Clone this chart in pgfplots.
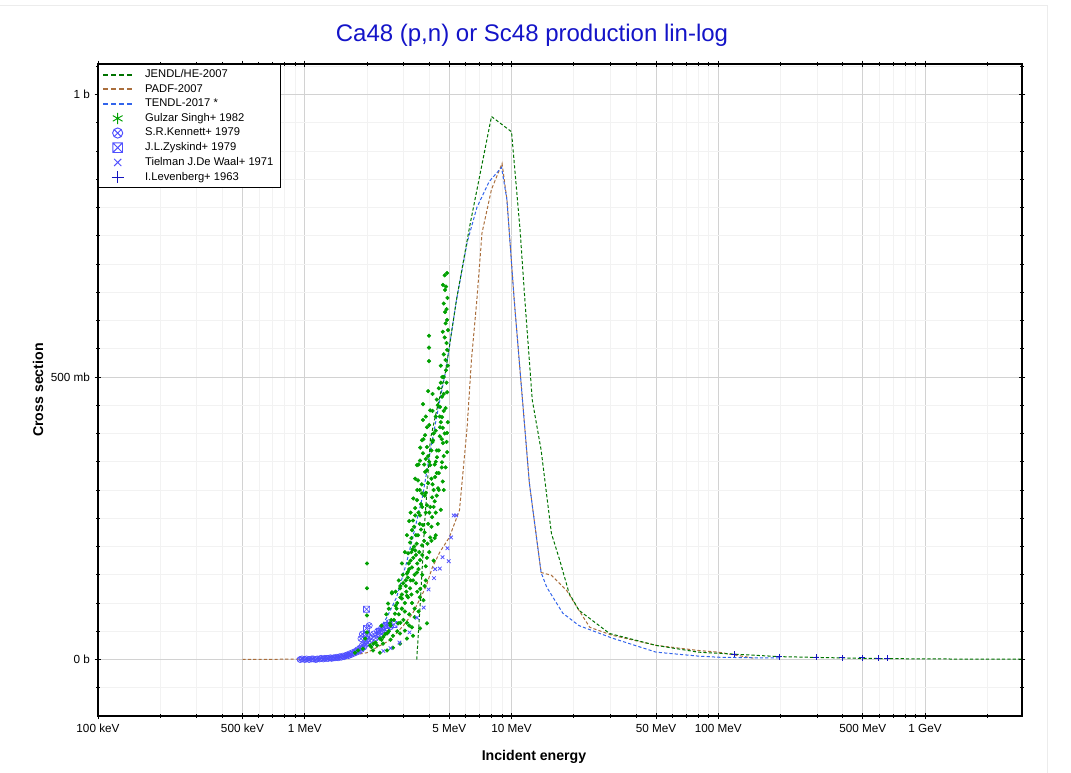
\documentclass[border=0pt]{standalone}
\usepackage{fontspec}
\setmainfont{Liberation Sans}
\usepackage{pgfplots}
\pgfplotsset{compat=1.18}
\usetikzlibrary{plotmarks}
\definecolor{jendl}{RGB}{0,115,0}
\definecolor{padf}{RGB}{170,110,60}
\definecolor{tendl}{RGB}{50,100,235}
\definecolor{gulzar}{RGB}{0,160,0}
\definecolor{expblue}{RGB}{80,80,255}
\definecolor{levblue}{RGB}{20,20,190}
\definecolor{titleblue}{RGB}{20,20,200}
\pgfdeclareplotmark{boxtimes}{%
  \pgfpathrectangle{\pgfqpoint{-\pgfplotmarksize}{-\pgfplotmarksize}}{\pgfqpoint{2\pgfplotmarksize}{2\pgfplotmarksize}}%
  \pgfpathmoveto{\pgfqpoint{-\pgfplotmarksize}{-\pgfplotmarksize}}\pgfpathlineto{\pgfqpoint{\pgfplotmarksize}{\pgfplotmarksize}}%
  \pgfpathmoveto{\pgfqpoint{-\pgfplotmarksize}{\pgfplotmarksize}}\pgfpathlineto{\pgfqpoint{\pgfplotmarksize}{-\pgfplotmarksize}}%
  \pgfusepathqstroke}
\tikzset{curve/.style={dash pattern=on 2.4pt off 1.6pt, line width=0.75pt}}
\begin{document}
\begin{tikzpicture}
\useasboundingbox (0,0) rectangle (803.25pt,579.75pt);
\draw[gray!15, line width=0.6pt] (0,576pt) -- (785.25pt,576pt) -- (785.25pt,0);
\node[font=\fontsize{18}{20}\selectfont, text=titleblue] at (399pt,553.5pt) {Ca48 (p,n) or Sc48 production lin-log};
\node[font=\bfseries\fontsize{10.6}{12}\selectfont] at (400.5pt,12pt) {Incident energy};
\node[font=\bfseries\fontsize{10.6}{12}\selectfont, rotate=90] at (28.5pt,287.25pt) {Cross section};
\begin{axis}[
  at={(73.5pt,42.75pt)}, anchor=south west,
  scale only axis, width=693pt, height=489pt,
  xmode=log, xmin=0.1, xmax=2944, ymin=-0.1, ymax=1.054,
  xtick={0.1,0.5,1,5,10,50,100,500,1000},
  xticklabels={100 keV,500 keV,1 MeV,5 MeV,10 MeV,50 MeV,100 MeV,500 MeV,1 GeV},
  minor xtick={0.2,0.3,0.4,0.6,0.7,0.8,0.9,2,3,4,6,7,8,9,20,30,40,60,70,80,90,200,300,400,600,700,800,900,2000},
  ytick={0,0.5,1}, yticklabels={0 b,500 mb,1 b},
  minor ytick={-0.05,0.05,0.1,0.15,0.2,0.25,0.3,0.35,0.4,0.45,0.55,0.6,0.65,0.7,0.75,0.8,0.85,0.9,0.95,1.05},
  grid=both,
  major grid style={gray!35, line width=0.6pt},
  minor grid style={gray!10, line width=0.5pt},
  tick label style={font=\fontsize{8.8}{10}\selectfont},
  axis line style={line width=0.8pt},
  tick style={black, line width=0.6pt},
  tick align=center, major tick length=5pt, minor tick length=3pt,
  legend style={at={(0,1)}, anchor=north west, draw=black, font=\fontsize{8.4}{9}\selectfont, inner xsep=3pt, inner ysep=2pt, row sep=-0.5pt, /tikz/every odd column/.append style={column sep=7pt}},
  legend cell align=left,
  legend image code/.code={\draw[mark repeat=2,mark phase=2,#1] plot coordinates {(0cm,0cm) (0.38cm,0cm) (0.76cm,0cm)};},
]
\addlegendimage{jendl, dash pattern=on 3.5pt off 2.5pt, line width=1.5pt}
\addlegendentry{JENDL/HE-2007}
\addlegendimage{padf, dash pattern=on 3.5pt off 2.5pt, line width=1.5pt}
\addlegendentry{PADF-2007}
\addlegendimage{tendl, dash pattern=on 3.5pt off 2.5pt, line width=1.5pt}
\addlegendentry{TENDL-2017 *}
\addlegendimage{only marks, mark=asterisk, gulzar, mark size=4.2pt, line width=0.7pt}
\addlegendentry{Gulzar Singh+ 1982}
\addlegendimage{only marks, mark=otimes, expblue, mark size=3.8pt, line width=0.7pt}
\addlegendentry{S.R.Kennett+ 1979}
\addlegendimage{only marks, mark=boxtimes, expblue, mark size=3.6pt, line width=0.7pt}
\addlegendentry{J.L.Zyskind+ 1979}
\addlegendimage{only marks, mark=x, expblue, mark size=3.8pt, line width=0.7pt}
\addlegendentry{Tielman J.De Waal+ 1971}
\addlegendimage{only marks, mark=+, levblue, mark size=4.5pt, line width=0.7pt}
\addlegendentry{I.Levenberg+ 1963}

% PADF-2007
\addplot[padf, curve, forget plot] coordinates {
(0.5,0) (0.8,0.0005) (1.0,0.001) (1.5,0.004) (2.0,0.012) (2.58,0.034) (3.0,0.06) (3.33,0.082) (3.58,0.105) (3.87,0.13) (4.14,0.163) (4.5,0.19) (5.0,0.216) (5.6,0.264) (6.1,0.411) (6.4,0.53) (6.8,0.637) (7.2,0.755) (8.0,0.832) (9.0,0.878) (9.5,0.814) (10.3,0.637) (11.3,0.459) (12.2,0.312) (13.9,0.154) (15.6,0.149) (18.5,0.122) (21.2,0.087) (23.9,0.057) (30.6,0.043) (50,0.025) (80,0.016) (100,0.013) (150,0.002)};
% TENDL-2017
\addplot[tendl, curve, forget plot] coordinates {
(1.0,0) (1.3,0.002) (1.6,0.008) (1.9,0.02) (2.23,0.046) (2.5,0.075) (2.78,0.11) (3.1,0.17) (3.4,0.23) (3.72,0.29) (4.05,0.37) (4.4,0.44) (4.8,0.51) (5.42,0.637) (6.1,0.738) (6.8,0.80) (7.8,0.846) (8.95,0.871) (9.5,0.814) (10.3,0.637) (11.3,0.459) (12.2,0.312) (13.9,0.154) (14.8,0.128) (17.7,0.082) (21.2,0.060) (30.6,0.038) (50,0.013) (80,0.006) (100,0.004) (150,0.003) (200,0.003)};
% JENDL/HE-2007
\addplot[jendl, curve, forget plot] coordinates {
(3.48,0) (3.62,0.10) (3.80,0.24) (4.05,0.39) (4.4,0.45) (4.8,0.51) (5.42,0.637) (6.27,0.766) (8.0,0.961) (10.0,0.934) (11.0,0.76) (11.6,0.637) (12.6,0.459) (13.9,0.371) (15.6,0.223) (17.1,0.176) (19.0,0.117) (21.2,0.087) (29.8,0.046) (50,0.025) (80,0.013) (100,0.011) (200,0.005) (500,0.002) (1000,0.001) (2944,0.0005)};

% S.R.Kennett+ 1979
\addplot[only marks, mark=otimes, expblue, mark size=2.3pt, line width=0.5pt, forget plot] coordinates {
(0.95,0.000) (0.97,0.001) (1.0,0.000) (1.02,0.001) (1.05,0.000) (1.08,0.001) (1.1,0.001) (1.13,0.000) (1.15,0.001) (1.18,0.001) (1.2,0.002) (1.23,0.001) (1.25,0.002) (1.28,0.002) (1.3,0.002) (1.33,0.003) (1.35,0.002) (1.38,0.003) (1.4,0.003) (1.43,0.004) (1.45,0.003) (1.48,0.005) (1.5,0.004) (1.53,0.006) (1.55,0.005) (1.58,0.007) (1.6,0.008) (1.63,0.007) (1.65,0.010) (1.68,0.009) (1.7,0.012) (1.73,0.011) (1.75,0.014) (1.78,0.013) (1.8,0.017) (1.83,0.015) (1.85,0.020) (1.88,0.018) (1.9,0.025) (1.93,0.022) (1.95,0.030) (1.98,0.027) (2.0,0.035) (2.05,0.040) (2.1,0.030) (2.15,0.045) (2.2,0.038) (2.25,0.050) (2.3,0.042) (2.35,0.055) (2.4,0.048) (2.45,0.060) (2.5,0.050) (2.55,0.065) (2.6,0.058) (1.87,0.037) (1.9,0.045) (2.05,0.060)};
% J.L.Zyskind+ 1979
\addplot[only marks, mark=boxtimes, expblue, mark size=2.3pt, line width=0.5pt, forget plot] coordinates {
(1.99,0.089) (1.99,0.055) (1.99,0.043) (2.3,0.050) (2.5,0.060) (2.7,0.062)};
% Gulzar Singh+ 1982
\addplot[only marks, mark=*, gulzar, mark size=1.35pt, forget plot] coordinates {
(4.88,0.684) (4.66,0.663) (4.77,0.654) (4.77,0.615) (4.88,0.601) (4.93,0.583) (3.99,0.573) (3.99,0.552) (3.99,0.528) (4.88,0.548) (4.82,0.512) (4.88,0.473) (3.95,0.475) (4.61,0.465) (3.73,0.452) (4.51,0.447) (4.04,0.441) (4.61,0.429) (3.73,0.424) (3.90,0.411) (4.51,0.411) (4.88,0.401) (3.82,0.397) (4.17,0.388) (3.69,0.388) (4.66,0.383) (3.90,0.376) (4.88,0.367) (3.73,0.365) (4.36,0.358) (3.61,0.352) (4.61,0.349) (4.04,0.344) (3.49,0.344) (3.82,0.332) (4.27,0.323) (3.53,0.317) (3.95,0.312) (4.41,0.303) (3.69,0.294) (4.13,0.287) (3.49,0.282) (3.90,0.273) (3.42,0.268) (3.61,0.255) (4.13,0.252) (3.34,0.246) (3.73,0.238) (3.30,0.229) (3.53,0.220) (4.04,0.216) (3.23,0.207) (3.69,0.202) (3.42,0.193) (3.16,0.188) (3.61,0.176) (3.30,0.163) (3.49,0.154) (3.12,0.152) (3.34,0.140) (2.99,0.135) (3.23,0.126) (2.64,0.119) (3.12,0.113) (2.95,0.108)
(2.00,0.170) (2.00,0.126) (2.00,0.078) (2.00,0.048) (1.96,0.037) (2.53,0.099) (2.64,0.117) (2.89,0.126) (3.16,0.110) (2.73,0.081) (2.95,0.090) (3.12,0.065) (2.83,0.064) (2.58,0.064) (2.50,0.046) (2.31,0.037) (2.24,0.025) (2.07,0.025) (2.39,0.028) (2.67,0.042) (2.89,0.046) (3.05,0.051) (3.30,0.057) (1.91,0.019) (1.81,0.016) (1.75,0.012) (2.14,0.016) (2.31,0.012) (2.50,0.016) (2.67,0.021) (2.89,0.028) (3.12,0.037) (3.34,0.042) (3.61,0.055) (3.90,0.064)
(4.2,0.30) (4.3,0.35) (4.45,0.37) (4.55,0.42) (4.7,0.44) (4.75,0.40) (4.6,0.39) (4.35,0.33) (4.25,0.28) (4.15,0.31) (4.05,0.27) (3.95,0.24) (3.85,0.26) (3.78,0.21) (3.65,0.23) (3.58,0.19) (3.5,0.17) (3.4,0.15) (3.35,0.18) (3.25,0.14) (3.2,0.16) (3.1,0.12) (3.05,0.10) (2.95,0.09) (2.85,0.08) (2.78,0.09) (2.7,0.07) (2.6,0.06) (2.55,0.05) (2.45,0.045) (2.4,0.04) (2.35,0.035) (2.2,0.03) (2.15,0.028) (2.1,0.022) (4.0,0.35) (4.1,0.37) (4.2,0.40) (4.3,0.43) (4.4,0.45) (4.45,0.48) (4.7,0.50) (4.8,0.53) (4.75,0.57) (4.85,0.62) (4.9,0.64) (4.3,0.26) (4.45,0.30) (4.6,0.34) (3.8,0.29) (3.7,0.27) (3.6,0.30) (3.55,0.26) (3.45,0.22) (3.38,0.20) (3.28,0.19) (3.18,0.17) (3.08,0.14) (2.98,0.15) (2.9,0.11) (2.8,0.10) (3.3,0.10) (3.5,0.12) (3.7,0.15) (3.9,0.18) (4.1,0.21) (4.3,0.22) (2.6,0.035) (2.8,0.05) (3.0,0.07) (3.2,0.08) (3.4,0.09) (3.6,0.11) (3.8,0.13)
(2.35,0.06) (2.48,0.08) (2.62,0.07) (2.75,0.095) (2.9,0.065) (3.05,0.085) (3.2,0.06) (3.4,0.075) (3.55,0.085) (2.55,0.09)
(2.75,0.12) (2.85,0.14) (2.95,0.115) (3.08,0.13) (3.15,0.145) (3.28,0.115) (3.45,0.135) (3.62,0.125) (3.75,0.105) (3.85,0.14) (2.9,0.13)
(2.95,0.17) (3.05,0.19) (3.15,0.155) (3.25,0.175) (3.45,0.185) (3.55,0.16) (3.7,0.185) (3.85,0.165) (4.0,0.19) (4.2,0.175) (3.32,0.195)
(3.12,0.22) (3.2,0.245) (3.38,0.235) (3.48,0.205) (3.6,0.24) (3.8,0.225) (3.92,0.205) (4.1,0.235) (4.25,0.215) (4.4,0.24) (3.28,0.215)
(3.25,0.26) (3.35,0.285) (3.5,0.3) (3.65,0.275) (3.85,0.295) (4.0,0.26) (4.2,0.27) (4.35,0.29) (4.55,0.265) (4.7,0.3) (3.42,0.255)
(3.42,0.32) (3.55,0.345) (3.68,0.31) (3.9,0.335) (4.1,0.32) (4.25,0.345) (4.45,0.33) (4.65,0.315) (4.8,0.34) (3.78,0.345)
(3.62,0.375) (3.75,0.39) (3.95,0.36) (4.15,0.385) (4.35,0.37) (4.5,0.395) (4.7,0.36) (4.85,0.385) (3.85,0.355)
(3.85,0.43) (4.0,0.415) (4.15,0.44) (4.3,0.405) (4.5,0.43) (4.65,0.41) (4.8,0.445) (4.92,0.42)
(4.15,0.47) (4.35,0.46) (4.55,0.49) (4.7,0.47) (4.85,0.49) (4.62,0.5)
(4.55,0.52) (4.7,0.54) (4.85,0.56) (4.65,0.58) (4.8,0.595) (4.92,0.52)
(4.7,0.63) (4.82,0.66) (4.75,0.68)};
% Tielman J.De Waal+ 1971
\addplot[only marks, mark=x, expblue, mark size=1.9pt, line width=0.6pt, forget plot] coordinates {
(5.25,0.255) (5.4,0.255) (5.1,0.216) (4.9,0.197) (4.97,0.174) (4.64,0.181) (4.5,0.161) (4.27,0.160) (4.22,0.144) (3.97,0.124) (3.76,0.092) (3.49,0.074) (3.21,0.048) (2.87,0.030) (2.6,0.020) (2.4,0.015)};
% I.Levenberg+ 1963
\addplot[only marks, mark=+, levblue, mark size=2.2pt, line width=0.6pt, forget plot] coordinates {
(119,0.009) (197,0.005) (297,0.004) (397,0.003) (496,0.003) (593,0.002) (655,0.002)};
\end{axis}
\end{tikzpicture}
\end{document}
